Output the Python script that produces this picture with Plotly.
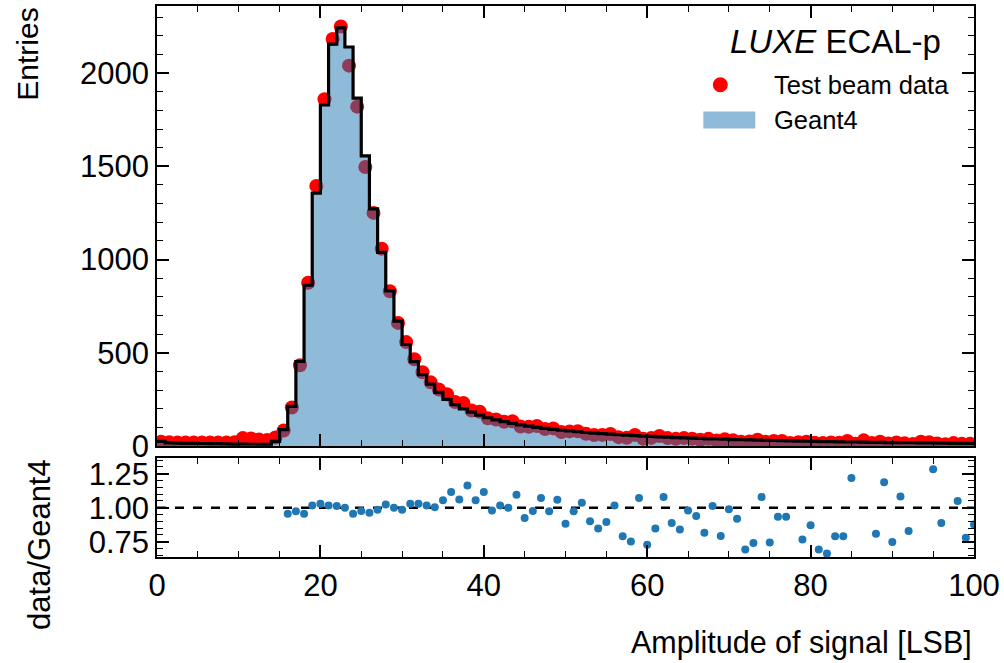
import numpy as np
import plotly.graph_objects as go

# ---------------- data ----------------
bin_lo = list(range(0, 100))          # bin lower edges, width 1 LSB
bin_width = 1

geant4 = [24, 16, 15, 14, 14, 13, 12, 12, 11, 10,
          10, 9, 9, 9, 24, 87, 212, 453, 862, 1356,
          1829, 2155, 2243, 2140, 1866, 1556, 1272, 1038, 831, 669,
          544, 452, 382, 332, 287, 250, 222, 199, 181, 165,
          151, 140, 130, 121, 113, 106, 100, 94, 89, 84,
          80, 76, 72, 69, 66, 63, 60, 58, 55, 53,
          51, 49, 47, 45, 43, 42, 40, 38, 37, 36,
          34, 33, 32, 31, 30, 29, 28, 27, 26, 25,
          24, 23, 23, 22, 21, 21, 20, 19, 19, 18,
          18, 17, 17, 16, 16, 15, 15, 14, 14, 14]

testbeam = [22, 20, 19, 19, 18, 18, 19, 18, 19, 20,
            42, 40, 34, 32, 45, 83, 206, 433, 875, 1395,
            1860, 2183, 2250, 2040, 1820, 1496, 1250, 1058, 830, 660,
            557, 465, 395, 341, 303, 277, 236, 230, 190, 183,
            148, 142, 130, 132, 104, 103, 107, 91, 94, 74,
            78, 79, 65, 58, 59, 64, 47, 44, 59, 39,
            43, 53, 42, 38, 42, 39, 33, 38, 29, 36,
            31, 23, 24, 33, 22, 27, 26, 16, 20, 22,
            17, 15, 18, 17, 26, 12, 30, 15, 22, 13,
            19, 14, 10, 22, 20, 13, 9, 15, 11, 12]

ratio_x = [16, 17, 18, 19, 20, 21, 22, 23, 24, 25, 26, 27, 28, 29, 30,
           31, 32, 33, 34, 35, 36, 37, 38, 39, 40, 41, 42, 43, 44, 45,
           46, 47, 48, 49, 50, 51, 52, 53, 54, 55, 56, 57, 58, 59, 60,
           61, 62, 63, 64, 65, 66, 67, 68, 69, 70, 71, 72, 73, 74, 75,
           76, 77, 79, 80, 81, 82, 83, 84, 85, 88, 89, 90, 91, 92, 95,
           96, 98, 99, 100]
ratio_vals = [0.956, 0.973, 0.956, 1.017, 1.029, 1.017, 1.012, 1.000, 0.956, 0.975,
              0.963, 0.985, 1.024, 1.000, 0.985, 1.029, 1.029, 1.017, 1.004, 1.054,
              1.115, 1.061, 1.164, 1.054, 1.115, 0.980, 1.017, 1.000, 1.095, 0.924,
              0.975, 1.071, 0.973, 1.059, 0.882, 0.973, 1.037, 0.900, 0.846, 0.894,
              1.017, 0.789, 0.752, 1.071, 0.728, 0.846, 1.078, 0.887, 0.840, 0.980,
              0.938, 0.816, 1.012, 0.791, 0.988, 0.919, 0.693, 0.740, 1.078, 0.743,
              0.934, 0.934, 0.765, 0.870, 0.693, 0.662, 0.789, 0.789, 1.218, 0.809,
              1.188, 0.747, 1.083, 0.828, 1.282, 0.887, 1.049, 0.779, 0.877]

main_yticks = [0, 500, 1000, 1500, 2000]
ratio_yticks = [0.75, 1.00, 1.25]
x_ticks = [0, 20, 40, 60, 80, 100]

# ---------------- derived arrays ----------------
edges = list(bin_lo) + [bin_lo[-1] + bin_width]
centers = [b + bin_width / 2 for b in bin_lo]
step_y = list(geant4) + [geant4[-1]]

FONT = "Liberation Sans"
BLUE = "#1f77b4"
TICKSIZE = 31

fig = go.Figure()

# test beam data (drawn first so the translucent fill lies over it)
fig.add_trace(go.Scatter(x=centers, y=testbeam, mode="markers",
                         marker=dict(color="red", size=14, line=dict(width=0)),
                         name="Test beam data", showlegend=False,
                         xaxis="x", yaxis="y"))
# Geant4 filled histogram
fig.add_trace(go.Scatter(x=edges, y=step_y, mode="lines", line_shape="hv",
                         line=dict(width=0, color="rgba(31,119,180,0)"),
                         fill="tozeroy", fillcolor="rgba(31,119,180,0.5)",
                         name="Geant4", showlegend=False,
                         xaxis="x", yaxis="y"))
# Geant4 step outline
fig.add_trace(go.Scatter(x=edges, y=step_y, mode="lines", line_shape="hv",
                         line=dict(width=3.2, color="black"),
                         showlegend=False, xaxis="x", yaxis="y"))
# ratio
fig.add_trace(go.Scatter(x=ratio_x, y=ratio_vals, mode="markers",
                         marker=dict(color=BLUE, size=8, line=dict(width=0)),
                         showlegend=False, xaxis="x2", yaxis="y2"))

axis_common = dict(showline=True, linecolor="black", linewidth=1.6,
                   mirror="allticks", ticks="inside", ticklen=12, tickwidth=1.5,
                   tickcolor="black", showgrid=False, zeroline=False,
                   tickfont=dict(family=FONT, size=TICKSIZE, color="black"))

fig.update_layout(
    width=1004, height=663,
    margin=dict(l=157, r=29, t=4, b=106),
    paper_bgcolor="white", plot_bgcolor="white",
    font=dict(family=FONT, color="black"),
    showlegend=False,
    xaxis=dict(domain=[0, 1], range=[0, 100], anchor="y",
               tickvals=x_ticks, showticklabels=False,
               minor=dict(dtick=5, ticks="inside", ticklen=6, tickwidth=1.3,
                          tickcolor="black", showgrid=False),
               **axis_common),
    yaxis=dict(domain=[0.2016, 1], range=[0, 2360], anchor="x",
               tickvals=main_yticks,
               minor=dict(dtick=100, ticks="inside", ticklen=6, tickwidth=1.3,
                          tickcolor="black", showgrid=False),
               **axis_common),
    xaxis2=dict(domain=[0, 1], range=[0, 100], anchor="y2", matches="x",
                tickvals=x_ticks,
                minor=dict(dtick=5, ticks="inside", ticklen=6, tickwidth=1.3,
                           tickcolor="black", showgrid=False),
                **axis_common),
    yaxis2=dict(domain=[0, 0.179], range=[0.637, 1.363], anchor="x2",
                tickvals=ratio_yticks, tickformat=".2f",
                minor=dict(dtick=0.05, ticks="inside", ticklen=6, tickwidth=1.3,
                           tickcolor="black", showgrid=False),
                **axis_common),
)

# reference line at ratio = 1
fig.add_shape(type="line", xref="x2 domain", yref="y2", x0=0, x1=1, y0=1, y1=1,
              line=dict(color="black", width=2.4, dash="dash"), layer="below")

# legend (drawn by hand to match the wide patch)
def px_x(p):
    return (p - 157) / 818.0

def px_y(p):
    return 1 - (p - 4) / 553.0

fig.add_annotation(xref="paper", yref="paper", x=px_x(836), y=px_y(40),
                   text="<i>LUXE</i> ECAL-p", showarrow=False,
                   xanchor="center", yanchor="middle",
                   font=dict(family=FONT, size=33, color="black"))
fig.add_shape(type="circle", xref="paper", yref="paper",
              x0=px_x(713.5), x1=px_x(728.5), y0=px_y(90.5), y1=px_y(75.5),
              fillcolor="red", line=dict(width=0))
fig.add_annotation(xref="paper", yref="paper", x=px_x(773), y=px_y(83),
                   text="Test beam data", showarrow=False,
                   xanchor="left", yanchor="middle",
                   font=dict(family=FONT, size=25.5, color="black"))
fig.add_shape(type="rect", xref="paper", yref="paper",
              x0=px_x(704), x1=px_x(756), y0=px_y(127), y1=px_y(110),
              fillcolor="rgba(31,119,180,0.5)", line=dict(width=0))
fig.add_annotation(xref="paper", yref="paper", x=px_x(773), y=px_y(118.5),
                   text="Geant4", showarrow=False,
                   xanchor="left", yanchor="middle",
                   font=dict(family=FONT, size=25.5, color="black"))

# axis titles (matplotlib/mplhep alignment: y at top, x at right)
fig.add_annotation(xref="paper", yref="paper", x=px_x(27), y=1,
                   text="Entries", textangle=-90, showarrow=False,
                   xanchor="center", yanchor="top",
                   font=dict(family=FONT, size=30, color="black"))
fig.add_annotation(xref="paper", yref="paper", x=px_x(40), y=0.181,
                   text="data/Geant4", textangle=-90, showarrow=False,
                   xanchor="center", yanchor="top",
                   font=dict(family=FONT, size=31, color="black"))
fig.add_annotation(xref="paper", yref="paper", x=1, y=px_y(643),
                   text="Amplitude of signal [LSB]", showarrow=False,
                   xanchor="right", yanchor="middle",
                   font=dict(family=FONT, size=30.5, color="black"))

fig.write_html("out.html")
